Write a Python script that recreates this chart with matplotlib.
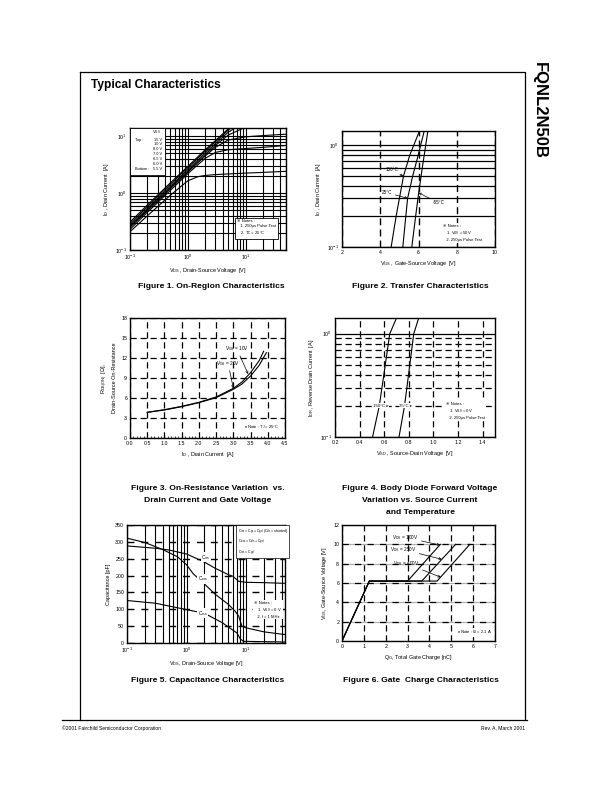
import matplotlib
matplotlib.use('Agg')
import matplotlib.pyplot as plt
from matplotlib.patches import Rectangle
from matplotlib.ticker import FixedLocator, NullFormatter, MultipleLocator, LogLocator

plt.rcParams['font.family'] = ['Liberation Sans', 'DejaVu Sans']
plt.rcParams['font.size'] = 4
plt.rcParams['mathtext.fontset'] = 'custom'
plt.rcParams['mathtext.rm'] = 'Liberation Sans'
plt.rcParams['axes.linewidth'] = 1.0

NARROW = ['Liberation Sans Narrow', 'Liberation Sans', 'DejaVu Sans']

# ---- Figure 1: on-region characteristics (ID vs VDS) ----
vds_f1 = [0.1, 0.2, 0.5, 1, 2, 3, 5, 10, 20, 50]
id_15v = [0.31, 0.62, 1.52, 2.95, 5.8, 8.4, 13.5, 24, 40, 60]
id_10v = [0.29, 0.58, 1.43, 2.8, 5.5, 8.0, 12.8, 22, 35, 50]
id_8v = [0.27, 0.54, 1.33, 2.6, 5.1, 7.4, 11.8, 18, 25, 30]
id_7v = [0.26, 0.51, 1.26, 2.45, 4.75, 6.9, 10.5, 14.5, 16, 17]
id_65v = [0.25, 0.49, 1.2, 2.35, 4.5, 6.4, 8.6, 9.8, 10.3, 10.9]
id_6v = [0.23, 0.46, 1.12, 2.2, 4.1, 5.2, 5.8, 6.1, 6.4, 6.9]
vds_55 = [0.1, 0.2, 0.5, 1, 1.5, 2, 3, 5, 10, 20, 50]
id_55v = [0.21, 0.40, 0.92, 1.65, 1.95, 2.05, 2.12, 2.18, 2.25, 2.32, 2.42]

# ---- Figure 2: transfer characteristics (ID vs VGS) ----
vgs_150c = [4.57, 4.83, 5.22, 5.55, 6.05]
id_150c = [0.1, 0.2, 0.5, 0.8, 1.37]
vgs_25c = [5.18, 5.3, 5.43, 5.7, 5.95, 6.3]
id_25c = [0.1, 0.17, 0.3, 0.5, 0.75, 1.37]
vgs_m55c = [5.65, 5.85, 6.0, 6.2, 6.49]
id_m55c = [0.1, 0.2, 0.33, 0.6, 1.37]

# ---- Figure 3: on-resistance vs drain current ----
id_f3_10v = [0.5, 1.0, 1.5, 2.0, 2.5, 3.0, 3.25, 3.5, 3.75, 3.88]
rds_10v = [3.85, 4.25, 4.75, 5.35, 6.15, 7.45, 8.4, 9.8, 11.6, 13.0]
id_f3_20v = [0.5, 1.0, 1.5, 2.0, 2.5, 3.0, 3.25, 3.5, 3.75, 3.96]
rds_20v = [3.85, 4.2, 4.7, 5.3, 6.05, 7.3, 8.1, 9.3, 10.9, 12.8]

# ---- Figure 4: body diode forward voltage ----
vsd_150c = [0.505, 0.56, 0.645, 0.70]
idr_150c = [0.1, 0.2, 1.0, 1.42]
vsd_25c = [0.72, 0.765, 0.84, 0.88]
idr_25c = [0.1, 0.2, 1.0, 1.42]

# ---- Figure 5: capacitance ----
vds_ciss = [0.1, 0.3, 0.5, 1, 2, 3, 5, 6, 7.5, 10, 20, 45]
ciss = [288, 281, 276, 264, 240, 222, 203, 198, 183, 180, 179, 177]
vds_coss = [0.1, 0.2, 0.4, 0.7, 1.0, 1.3, 2, 3, 5, 6.5, 7.5, 8.5, 10, 20, 45]
coss = [311, 298, 277, 256, 232, 205, 175, 145, 115, 95, 80, 50, 45, 33, 25]
vds_crss = [0.1, 0.3, 1, 2, 4, 6, 7, 8, 9, 20, 45]
crss = [126, 118, 99, 88, 60, 38, 30, 12, 5, 4, 3]

# ---- Figure 6: gate charge ----
qg_100v = [0, 1.25, 3.0, 4.5]
qg_250v = [0, 1.25, 3.65, 5.2]
qg_400v = [0, 1.25, 4.35, 5.85]
vgs_gc = [0, 6.2, 6.2, 10]

W, H = 612, 792
fig = plt.figure(figsize=(W / 100, H / 100), dpi=100)

# page decorations in pixel coordinates
page = fig.add_axes([0, 0, 1, 1])
page.set_xlim(0, W)
page.set_ylim(H, 0)
page.axis('off')
page.plot([80, 525, 525], [72, 72, 720], color='black', lw=0.9)
page.plot([80, 80], [72, 720], color='black', lw=0.9)
page.plot([62, 527], [720, 720], color='black', lw=0.9)
page.text(91, 85, 'Typical Characteristics', fontsize=8.6, fontweight='bold', va='center')
page.text(539, 62, 'FQNL2N50B', fontsize=12, fontweight='bold', rotation=-90,
          ha='center', va='top', family=NARROW)
page.text(62, 728, '\u00a92001 Fairchild Semiconductor Corporation', fontsize=3.6, va='center')
page.text(525, 728, 'Rev. A, March 2001', fontsize=3.6, va='center', ha='right')

captions = [
    (211, [287], ['Figure 1. On-Region Characteristics']),
    (420, [287], ['Figure 2. Transfer Characteristics']),
    (208, [488, 500], ['Figure 3. On-Resistance Variation  vs.', 'Drain Current and Gate Voltage']),
    (420, [488, 500, 512], ['Figure 4. Body Diode Forward Voltage', 'Variation vs. Source Current',
                            'and Temperature']),
    (208, [681], ['Figure 5. Capacitance Characteristics']),
    (421, [681], ['Figure 6. Gate  Charge Characteristics']),
]
for cx, ys, lines in captions:
    for y, s in zip(ys, lines):
        page.text(cx, y, s, fontsize=6.1, fontweight='bold', ha='center', va='center', family=NARROW)


def make_axes(x0, y0, x1, y1):
    ax = fig.add_axes([x0 / W, 1 - y1 / H, (x1 - x0) / W, (y1 - y0) / H])
    ax.tick_params(which='both', direction='in', labelsize=3.8, pad=2)
    ax.tick_params(which='major', length=2, width=0.6)
    ax.tick_params(which='minor', length=1.2, width=0.5)
    ax.set_axisbelow(True)
    return ax


def note(ax, x, y, s, box=False, transform=None):
    kw = dict(fontsize=3.0, va='top', ha='left', linespacing=1.3, zorder=5)
    if transform is not None:
        kw['transform'] = transform
    if box:
        kw['bbox'] = dict(boxstyle='square,pad=0.5', fc='white', ec='black', lw=0.6)
    else:
        kw['bbox'] = dict(boxstyle='square,pad=0.2', fc='white', ec='none')
    ax.text(x, y, s, **kw)


arrow = dict(arrowstyle='->', lw=0.5, color='black', shrinkA=0, shrinkB=0, mutation_scale=4)
decade_fmt = {0.1: r'$\mathregular{10^{-1}}$', 1: r'$\mathregular{10^{0}}$', 10: r'$\mathregular{10^{1}}$'}

# ---------------- Figure 1 ----------------
ax1 = make_axes(130, 128, 286, 250)
ax1.set_xscale('log')
ax1.set_yscale('log')
for ys in [id_15v, id_10v, id_8v, id_7v, id_65v, id_6v]:
    ax1.plot(vds_f1, ys, color='black', lw=0.8)
ax1.plot(vds_55, id_55v, color='black', lw=0.8)
ax1.set_xlim(0.1, 50)
ax1.set_ylim(0.1, 14)
ax1.xaxis.set_major_locator(FixedLocator([0.1, 1, 10]))
ax1.yaxis.set_major_locator(FixedLocator([0.1, 1, 10]))
ax1.set_xticklabels([decade_fmt[v] for v in [0.1, 1, 10]])
ax1.set_yticklabels([decade_fmt[v] for v in [0.1, 1, 10]])
ax1.xaxis.set_minor_locator(LogLocator(subs=range(2, 10)))
ax1.yaxis.set_minor_locator(LogLocator(subs=range(2, 10)))
ax1.xaxis.set_minor_formatter(NullFormatter())
ax1.yaxis.set_minor_formatter(NullFormatter())
ax1.grid(which='both', color='black', lw=0.8, ls='-')
ax1.set_xlabel(r'$\mathregular{V_{DS}}$ , Drain-Source Voltage  [V]', fontsize=4, labelpad=3)
ax1.set_ylabel(r'$\mathregular{I_D}$ , Drain Current  [A]', fontsize=4, labelpad=3)
ax1.add_patch(Rectangle((0.0, 0.615), 0.225, 0.385, transform=ax1.transAxes,
                        fc='white', ec='black', lw=0.6, zorder=4))
ax1.text(0.195, 0.965, r'$\mathregular{V_{GS}}$', transform=ax1.transAxes, fontsize=3,
         ha='right', va='center', zorder=5)
vgs_labels = ['15 V', '10 V', '8.0 V', '7.0 V', '6.5 V', '6.0 V', '5.5 V']
for i, lab in enumerate(vgs_labels):
    yy = 0.905 - i * 0.04
    ax1.text(0.205, yy, lab, transform=ax1.transAxes, fontsize=2.8, ha='right', va='center', zorder=5)
ax1.text(0.03, 0.905, 'Top :', transform=ax1.transAxes, fontsize=2.8, va='center', zorder=5)
ax1.text(0.03, 0.665, 'Bottom :', transform=ax1.transAxes, fontsize=2.8, va='center', zorder=5)
note(ax1, 0.685, 0.255, '\u203b Notes :\n   1. 250\u03bcs Pulse Test\n   2. $\\mathregular{T_C}$ = 25\u00b0C',
     box=True, transform=ax1.transAxes)

# ---------------- Figure 2 ----------------
ax2 = make_axes(342, 131, 495, 247)
ax2.set_yscale('log')
ax2.plot(vgs_150c, id_150c, color='black', lw=0.8)
ax2.plot(vgs_25c, id_25c, color='black', lw=0.8)
ax2.plot(vgs_m55c, id_m55c, color='black', lw=0.8)
ax2.set_xlim(2, 10)
ax2.set_ylim(0.1, 1.37)
ax2.xaxis.set_major_locator(FixedLocator([2, 4, 6, 8, 10]))
ax2.yaxis.set_major_locator(FixedLocator([0.1, 1]))
ax2.set_yticklabels([decade_fmt[0.1], decade_fmt[1]])
ax2.yaxis.set_minor_locator(LogLocator(subs=range(2, 10)))
ax2.yaxis.set_minor_formatter(NullFormatter())
ax2.xaxis.grid(True, which='major', color='black', lw=1.0, ls=(0, (5, 3)))
ax2.yaxis.grid(True, which='both', color='black', lw=0.9, ls='-')
ax2.set_xlabel(r'$\mathregular{V_{GS}}$ , Gate-Source Voltage  [V]', fontsize=4, labelpad=3)
ax2.set_ylabel(r'$\mathregular{I_D}$ , Drain Current  [A]', fontsize=4, labelpad=3)
ax2.annotate('150\u00b0C', xy=(5.2, 0.49), xytext=(4.3, 0.58), fontsize=3.3, va='center',
             arrowprops=arrow)
ax2.annotate('25\u00b0C', xy=(5.43, 0.3), xytext=(4.1, 0.34), fontsize=3.3, va='center',
             arrowprops=arrow)
ax2.annotate('-55\u00b0C', xy=(6.0, 0.34), xytext=(6.75, 0.27), fontsize=3.3, va='center',
             arrowprops=arrow)
note(ax2, 0.66, 0.2, '\u203b Notes :\n   1. $\\mathregular{V_{DS}}$ = 50V\n   2. 250\u03bcs Pulse Test',
     transform=ax2.transAxes)

# ---------------- Figure 3 ----------------
ax3 = make_axes(130, 318, 285, 438)
ax3.plot(id_f3_10v, rds_10v, color='black', lw=0.8)
ax3.plot(id_f3_20v, rds_20v, color='black', lw=0.8)
ax3.set_xlim(0, 4.5)
ax3.set_ylim(0, 18)
ax3.xaxis.set_major_locator(MultipleLocator(0.5))
ax3.yaxis.set_major_locator(MultipleLocator(3))
ax3.xaxis.set_minor_locator(MultipleLocator(0.1))
ax3.xaxis.set_major_formatter(plt.FormatStrFormatter('%.1f'))
ax3.grid(which='major', color='black', lw=0.9, ls=(0, (5, 3)))
ax3.set_xlabel(r'$\mathregular{I_D}$ , Drain Current  [A]', fontsize=4, labelpad=3)
ax3.set_ylabel('$\\mathregular{R_{DS(ON)}}$  [\u03a9],\nDrain-Source On-Resistance', fontsize=4,
               labelpad=3, linespacing=1.4)
ax3.annotate(r'$\mathregular{V_{GS}}$ = 10V', xy=(3.43, 9.6), xytext=(2.75, 13.4), fontsize=3.4,
             va='center', arrowprops=arrow)
ax3.annotate(r'$\mathregular{V_{GS}}$ = 20V', xy=(3.0, 7.45), xytext=(2.5, 11.2), fontsize=3.4,
             va='center', arrowprops=arrow)
note(ax3, 3.3, 2.2, '\u203b Note : $\\mathregular{T_J}$ = 25\u00b0C')

# ---------------- Figure 4 ----------------
ax4 = make_axes(335, 318, 495, 437)
ax4.set_yscale('log')
ax4.plot(vsd_150c, idr_150c, color='black', lw=0.8)
ax4.plot(vsd_25c, idr_25c, color='black', lw=0.8)
ax4.set_xlim(0.2, 1.5)
ax4.set_ylim(0.1, 1.42)
ax4.xaxis.set_major_locator(FixedLocator([0.2, 0.4, 0.6, 0.8, 1.0, 1.2, 1.4]))
ax4.xaxis.set_major_formatter(plt.FormatStrFormatter('%.1f'))
ax4.yaxis.set_major_locator(FixedLocator([0.1, 1]))
ax4.set_yticklabels([decade_fmt[0.1], decade_fmt[1]])
ax4.yaxis.set_minor_locator(LogLocator(subs=range(2, 10)))
ax4.yaxis.set_minor_formatter(NullFormatter())
ax4.xaxis.grid(True, which='major', color='black', lw=0.9, ls=(0, (5, 3)))
ax4.yaxis.grid(True, which='major', color='black', lw=0.9, ls='-')
ax4.yaxis.grid(True, which='minor', color='black', lw=0.9, ls=(0, (5, 3)))
ax4.set_xlabel(r'$\mathregular{V_{SD}}$ , Source-Drain Voltage  [V]', fontsize=4, labelpad=3)
ax4.set_ylabel(r'$\mathregular{I_{DR}}$ , Reverse Drain Current  [A]', fontsize=4, labelpad=3)
ax4.text(0.505, 0.2, '150\u00b0C \u25b8', fontsize=3.2, va='center', zorder=5,
         bbox=dict(boxstyle='square,pad=0.1', fc='white', ec='none'))
ax4.text(0.72, 0.2, '25\u00b0C \u25b8', fontsize=3.2, va='center', zorder=5,
         bbox=dict(boxstyle='square,pad=0.1', fc='white', ec='none'))
note(ax4, 1.1, 0.22, '\u203b Notes :\n   1. $\\mathregular{V_{GS}}$ = 0V\n   2. 250\u03bcs Pulse Test')

# ---------------- Figure 5 ----------------
ax5 = make_axes(127, 525, 285, 643)
ax5.set_xscale('log')
ax5.plot(vds_ciss, ciss, color='black', lw=0.8)
ax5.plot(vds_coss, coss, color='black', lw=0.8)
ax5.plot(vds_crss, crss, color='black', lw=0.8)
ax5.set_xlim(0.1, 45)
ax5.set_ylim(0, 350)
ax5.xaxis.set_major_locator(FixedLocator([0.1, 1, 10]))
ax5.set_xticklabels([decade_fmt[v] for v in [0.1, 1, 10]])
ax5.xaxis.set_minor_locator(LogLocator(subs=range(2, 10)))
ax5.xaxis.set_minor_formatter(NullFormatter())
ax5.yaxis.set_major_locator(MultipleLocator(50))
ax5.xaxis.grid(True, which='both', color='black', lw=0.8, ls='-')
ax5.yaxis.grid(True, which='major', color='black', lw=1.0, ls=(0, (5, 5)))
ax5.set_xlabel(r'$\mathregular{V_{DS}}$, Drain-Source Voltage [V]', fontsize=4, labelpad=3)
ax5.set_ylabel('Capacitance [pF]', fontsize=4, labelpad=3)
ax5.text(1.75, 254, r'$\mathregular{C_{iss}}$', fontsize=3.4, va='center',
         bbox=dict(boxstyle='square,pad=0.1', fc='white', ec='none'))
ax5.text(1.55, 190, r'$\mathregular{C_{oss}}$', fontsize=3.4, va='center',
         bbox=dict(boxstyle='square,pad=0.1', fc='white', ec='none'))
ax5.text(1.55, 88, r'$\mathregular{C_{rss}}$', fontsize=3.4, va='center',
         bbox=dict(boxstyle='square,pad=0.1', fc='white', ec='none'))
ax5.text(0.7, 0.985, '$\\mathregular{C_{iss} = C_{gs} + C_{gd}\\ (C_{ds} = shorted)}$\n'
         '$\\mathregular{C_{oss} = C_{ds} + C_{gd}}$\n$\\mathregular{C_{rss} = C_{gd}}$',
         transform=ax5.transAxes, fontsize=2.6, va='top', ha='left', linespacing=1.3, zorder=5,
         bbox=dict(boxstyle='square,pad=0.4', fc='white', ec='black', lw=0.5))
note(ax5, 13.5, 126, '\u203b Notes :\n   1. $\\mathregular{V_{GS}}$ = 0 V\n   2. f = 1 MHz')

# ---------------- Figure 6 ----------------
ax6 = make_axes(342, 525, 495, 641)
ax6.plot(qg_100v, vgs_gc, color='black', lw=0.8)
ax6.plot(qg_250v, vgs_gc, color='black', lw=0.8)
ax6.plot(qg_400v, vgs_gc, color='black', lw=0.8)
ax6.set_xlim(0, 7)
ax6.set_ylim(0, 12)
ax6.xaxis.set_major_locator(MultipleLocator(1))
ax6.yaxis.set_major_locator(MultipleLocator(2))
ax6.xaxis.grid(True, which='major', color='black', lw=0.9, ls=(0, (5, 3)))
ax6.yaxis.grid(True, which='major', color='#b0b0b0', lw=0.9, ls='-')
for yv in [2, 4, 6, 8, 10]:
    ax6.axhline(yv, color='black', lw=0.9, ls=(0, (5, 5)), zorder=0.6)
ax6.set_xlabel(r'$\mathregular{Q_G}$, Total Gate Charge [nC]', fontsize=4, labelpad=3)
ax6.set_ylabel(r'$\mathregular{V_{GS}}$, Gate-Source Voltage [V]', fontsize=4, labelpad=3)
ax6.annotate(r'$\mathregular{V_{DS}}$ = 100V', xy=(4.49, 9.93), xytext=(2.3, 10.7), fontsize=3.4,
             va='center', arrowprops=arrow)
ax6.annotate(r'$\mathregular{V_{DS}}$ = 250V', xy=(4.57, 8.45), xytext=(2.2, 9.45), fontsize=3.4,
             va='center', arrowprops=arrow)
ax6.annotate(r'$\mathregular{V_{DS}}$ = 400V', xy=(4.52, 6.6), xytext=(2.35, 8.0), fontsize=3.4,
             va='center', arrowprops=arrow)
note(ax6, 5.25, 1.3, '\u203b Note : $\\mathregular{I_D}$ = 2.1 A')

fig.savefig('out.png', dpi=100)
